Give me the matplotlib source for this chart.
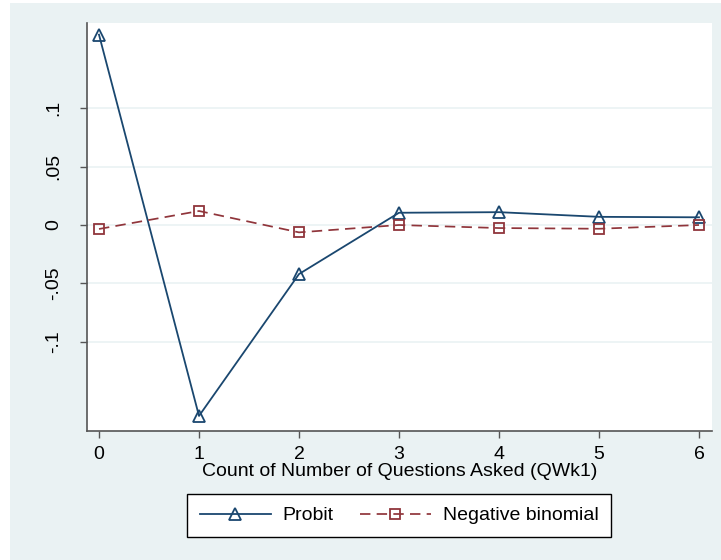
import matplotlib.pyplot as plt
from matplotlib.patches import Rectangle

# valori
questions = [0, 1, 2, 3, 4, 5, 6]
probit = [0.163, -0.1635, -0.042, 0.0105, 0.011, 0.007, 0.0066]
negbin = [-0.0034, 0.012, -0.0063, 0.0, -0.0026, -0.0032, 0.0]
yticks = [-0.1, -0.05, 0, 0.05, 0.1]
ytick_labels = ["-.1", "-.05", "0", ".05", ".1"]

navy = "#1a476f"
maroon = "#90353b"
bg = "#eaf2f3"

plt.rcParams['font.family'] = ['Liberation Sans', 'DejaVu Sans']

fig = plt.figure(figsize=(7.21, 5.60), dpi=100)
fig.patch.set_facecolor("white")
# sfondo stile Stata
fig.patches.append(Rectangle((10 / 721, 0), 1 - 10 / 721, 1 - 3 / 560,
                             transform=fig.transFigure, facecolor=bg,
                             edgecolor="none", zorder=-10))

ax = fig.add_axes([87 / 721, 1 - 431 / 560, (712 - 87) / 721, (431 - 23) / 560])
ax.set_facecolor("white")

ax.plot(questions, probit, color=navy, lw=1.3, marker="^", ms=8,
        mfc="none", mec=navy, mew=1.3, label="Probit", zorder=3)
ax.plot(questions, negbin, color=maroon, lw=1.25, ls=(0, (6, 3.6)), marker="s", ms=7,
        mfc="none", mec=maroon, mew=1.3, label="Negative binomial", zorder=3)

ax.set_xlim(-0.12, 6.13)
ax.set_ylim(-0.1764, 0.173)
ax.set_xticks(questions)
ax.set_yticks(yticks)
ax.set_yticklabels(ytick_labels, rotation=90, va="center")
ax.grid(axis="y", color=bg, lw=1.2)
ax.set_axisbelow(True)

for s in ["top", "right"]:
    ax.spines[s].set_visible(False)
for s in ["left", "bottom"]:
    ax.spines[s].set_color("#555555")
    ax.spines[s].set_linewidth(1.2)

ax.tick_params(axis="both", length=5, width=1, color="#555555", labelsize=14)
ax.tick_params(axis="y", pad=13)
ax.tick_params(axis="x", pad=6)

ax.set_xlabel("Count of Number of Questions Asked (QWk1)", fontsize=14, labelpad=0)

leg = fig.legend(loc="center", ncol=2, fontsize=14,
                 bbox_to_anchor=(187 / 721, 1 - 538 / 560, 424 / 721, 45 / 560),
                 mode="expand", borderaxespad=0, borderpad=0.65,
                 handlelength=3.65, handletextpad=0.6, columnspacing=1.6,
                 fancybox=False, framealpha=1, edgecolor="black")
leg.get_frame().set_linewidth(1.0)

plt.savefig("out.png", dpi=100, facecolor=fig.get_facecolor())
